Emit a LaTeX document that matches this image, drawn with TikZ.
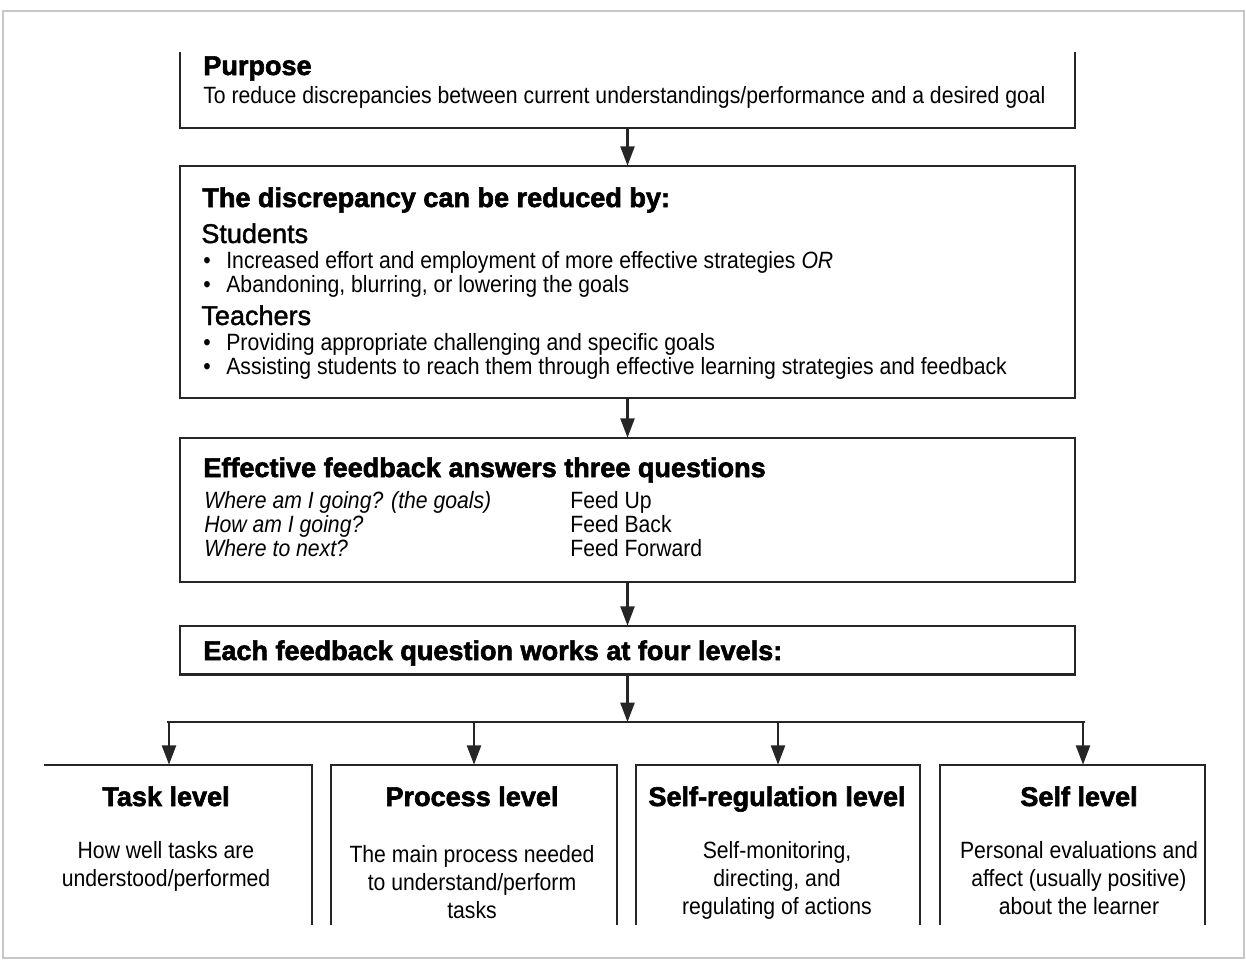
\documentclass[tikz,border=0pt]{standalone}
\usepackage{fontspec}
\setmainfont{Liberation Sans}[FakeStretch=0.9]
\newfontfamily\heavyfont{Liberation Sans}[FakeBold=2.2]
\newfontfamily\mediumfont{Liberation Sans}[FakeBold=1.5]
\usetikzlibrary{arrows.meta}
\tikzstyle{frame}=[draw=black!85,line width=1.3pt]
\tikzstyle{arrow}=[draw=black!85,line width=1.3pt,-{Triangle[length=11pt,width=8pt]}]
\tikzstyle{box}=[inner sep=0pt,minimum width=17.9cm]
\tikzstyle{heading}=[font=\heavyfont\fontsize{15.4}{18}\selectfont\bfseries,anchor=base west,inner sep=0pt]
\tikzstyle{subhead}=[font=\mediumfont\fontsize{15.4}{17}\selectfont,anchor=base west,inner sep=0pt]
\tikzstyle{body}=[font=\fontsize{13.4}{16}\selectfont,anchor=base west,inner sep=0pt]
\tikzstyle{level}=[font=\heavyfont\fontsize{15.4}{18}\selectfont\bfseries,anchor=base,inner sep=0pt]
\tikzstyle{levelbody}=[font=\fontsize{13.4}{15.9}\selectfont,align=center,anchor=north,inner sep=0pt]
\begin{document}
\begin{tikzpicture}[x=0.02cm,y=-0.02cm]
  \useasboundingbox (0,0) rectangle (1246,960);
    % page frame
    \draw[black!22,line width=0.8pt] (3,11) rectangle (1244,958);
    % First the main boxes
    \node[box,minimum height=1.52cm] (purpose) at (627.5,90) {};
    \node[box,minimum height=4.64cm] (reduce) at (627.5,282) {};
    \node[box,minimum height=2.88cm] (questions) at (627.5,510) {};
    \node[box,minimum height=0.96cm] (levels) at (627.5,650) {};
    \draw[frame] (purpose.north west) -- (purpose.south west) -- (purpose.south east) -- (purpose.north east);
    \foreach \name in {reduce,questions,levels}
        \draw[frame] (\name.north west) rectangle (\name.south east);
    % Texts of the main boxes
    \node[heading] (purposehead) at (203,75) {Purpose};
    \node[body] (purposeline) at (203,103) {To reduce discrepancies between current understandings/performance and a desired goal};
    \node[heading] (reducehead) at (202,207) {The discrepancy can be reduced by:};
    \node[subhead] (students) at (201,243) {Students};
    \node[subhead] (teachers) at (201,325) {Teachers};
    \foreach \y/\txt in {268/{Increased effort and employment of more effective strategies \textit{OR}},
                         292/{Abandoning, blurring, or lowering the goals},
                         350/{Providing appropriate challenging and specific goals},
                         374/{Assisting students to reach them through effective learning strategies and feedback}}
    {
        \node[body] (bullet\y) at (203,\y) {\textbullet};
        \node[body] (item\y) at (226,\y) {\txt};
    }
    \node[heading] (questionshead) at (203,477) {Effective feedback answers three questions};
    \foreach \y/\q/\f in {508/{Where am I going? (the goals)}/{Feed Up},
                          532/{How am I going?}/{Feed Back},
                          556/{Where to next?}/{Feed Forward}}
    {
        \node[body,font=\fontsize{13.4}{16}\selectfont\itshape] (q\y) at (204,\y) {\q};
        \node[body] (f\y) at (570,\y) {\f};
    }
    \node[heading] (levelshead) at (203,660) {Each feedback question works at four levels:};
    % The four levels, open at the bottom
    \foreach \name/\x/\w in {task/178/5.36,process/474/5.72,selfreg/778/5.68,self/1072.5/5.3}
        \node[box,minimum width=\w cm,minimum height=3.2cm] (\name) at (\x,845) {};
    \draw[frame] (task.north west) -- (task.north east) -- (task.south east);
    \foreach \name in {process,selfreg,self}
        \draw[frame] (\name.south west) -- (\name.north west) -- (\name.north east) -- (\name.south east);
    % Connect boxes with arrows
    \draw[arrow] (purpose.south) -- (reduce.north);
    \draw[arrow] (reduce.south) -- (questions.north);
    \draw[arrow] (questions.south) -- (levels.north);
    \coordinate (split) at (627.5,722);
    \coordinate (splitleft) at (167,722);
    \coordinate (splitright) at (1085,722);
    \draw[arrow] (levels.south) -- (split);
    \draw[frame] (splitleft) -- (splitright);
    \foreach \name/\x/\tx/\top/\title/\txt in {task/169/166/841/{Task level}/{How well tasks are\\understood/performed},
        process/474/472/845/{Process level}/{The main process needed\\to understand/perform\\tasks},
        selfreg/778/777/841/{Self-regulation level}/{Self-monitoring,\\directing, and\\regulating of actions},
        self/1083/1079/841/{Self level}/{Personal evaluations and\\affect (usually positive)\\about the learner}}
    {
        \coordinate (\name in) at (\x,722);
        \draw[arrow] (\name in) -- (\name in |- \name.north);
        \node[level] (\name head) at (\tx,806) {\title};
        \node[levelbody] (\name text) at (\tx,\top) {\txt};
    }
\end{tikzpicture}
\end{document}
